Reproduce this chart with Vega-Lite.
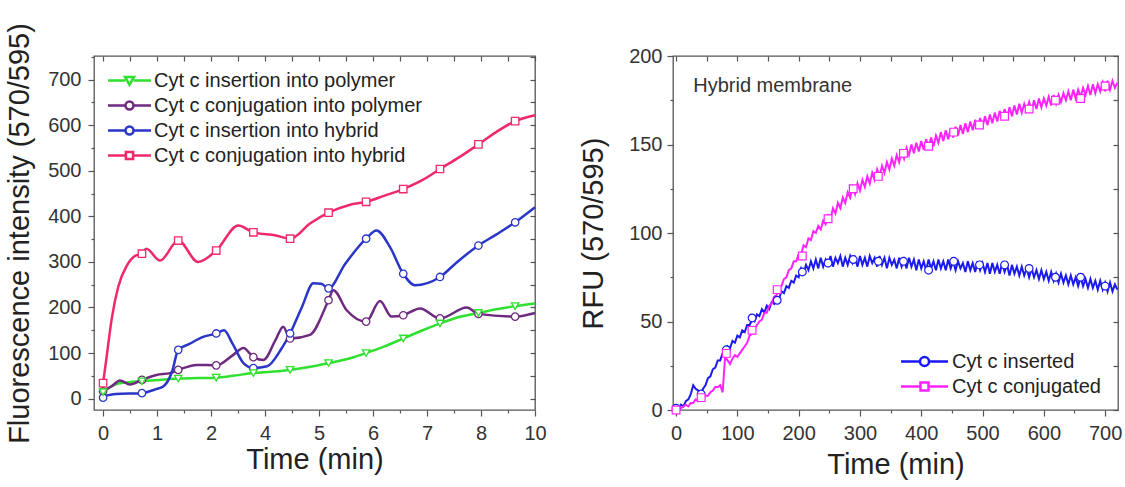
{
  "$schema": "https://vega.github.io/schema/vega-lite/v6.json",
  "padding": {"left": 4, "top": 21, "right": 0, "bottom": 0},
  "background": "white",
  "config": {
    "font": "Liberation Sans",
    "view": {"stroke": "#555", "strokeWidth": 1.3},
    "axis": {"grid": false, "domain": false, "labelFont": "Liberation Sans", "labelFontSize": 20, "labelColor": "#333", "titleFont": "Liberation Sans", "titleFontSize": 29, "titleFontWeight": "normal", "titleColor": "#222", "tickColor": "#555", "tickSize": 6, "tickWidth": 1.2, "labelPadding": 7, "labelOverlap": false, "labelFlush": false},
    "legend": {"labelFont": "Liberation Sans"}
  },
  "resolve": {"scale": {"color": "independent", "shape": "independent"}},
  "spacing": 31,
  "datasets": {
    "leftLines": [
      {"series": "Cyt c insertion into polymer", "t": 0, "v": 14},
      {"series": "Cyt c insertion into polymer", "t": 0.15, "v": 25},
      {"series": "Cyt c insertion into polymer", "t": 0.35, "v": 33},
      {"series": "Cyt c insertion into polymer", "t": 0.6, "v": 36},
      {"series": "Cyt c insertion into polymer", "t": 0.9, "v": 38},
      {"series": "Cyt c insertion into polymer", "t": 1.3, "v": 41},
      {"series": "Cyt c insertion into polymer", "t": 1.74, "v": 44},
      {"series": "Cyt c insertion into polymer", "t": 2.2, "v": 45},
      {"series": "Cyt c insertion into polymer", "t": 2.62, "v": 46},
      {"series": "Cyt c insertion into polymer", "t": 3.0, "v": 50},
      {"series": "Cyt c insertion into polymer", "t": 3.48, "v": 56},
      {"series": "Cyt c insertion into polymer", "t": 3.9, "v": 59},
      {"series": "Cyt c insertion into polymer", "t": 4.33, "v": 63},
      {"series": "Cyt c insertion into polymer", "t": 4.8, "v": 70},
      {"series": "Cyt c insertion into polymer", "t": 5.22, "v": 78},
      {"series": "Cyt c insertion into polymer", "t": 5.7, "v": 88},
      {"series": "Cyt c insertion into polymer", "t": 6.09, "v": 100},
      {"series": "Cyt c insertion into polymer", "t": 6.5, "v": 114},
      {"series": "Cyt c insertion into polymer", "t": 6.95, "v": 132},
      {"series": "Cyt c insertion into polymer", "t": 7.4, "v": 150},
      {"series": "Cyt c insertion into polymer", "t": 7.8, "v": 165},
      {"series": "Cyt c insertion into polymer", "t": 8.2, "v": 178},
      {"series": "Cyt c insertion into polymer", "t": 8.69, "v": 188},
      {"series": "Cyt c insertion into polymer", "t": 9.1, "v": 196},
      {"series": "Cyt c insertion into polymer", "t": 9.54, "v": 203},
      {"series": "Cyt c insertion into polymer", "t": 10, "v": 209},
      {"series": "Cyt c conjugation into polymer", "t": 0, "v": 16},
      {"series": "Cyt c conjugation into polymer", "t": 0.2, "v": 27},
      {"series": "Cyt c conjugation into polymer", "t": 0.39, "v": 40},
      {"series": "Cyt c conjugation into polymer", "t": 0.62, "v": 31},
      {"series": "Cyt c conjugation into polymer", "t": 0.9, "v": 41},
      {"series": "Cyt c conjugation into polymer", "t": 1.24, "v": 52},
      {"series": "Cyt c conjugation into polymer", "t": 1.55, "v": 56},
      {"series": "Cyt c conjugation into polymer", "t": 1.74, "v": 63},
      {"series": "Cyt c conjugation into polymer", "t": 2.17, "v": 74},
      {"series": "Cyt c conjugation into polymer", "t": 2.62, "v": 73},
      {"series": "Cyt c conjugation into polymer", "t": 3.0, "v": 95},
      {"series": "Cyt c conjugation into polymer", "t": 3.25, "v": 111},
      {"series": "Cyt c conjugation into polymer", "t": 3.48, "v": 91},
      {"series": "Cyt c conjugation into polymer", "t": 3.71, "v": 85},
      {"series": "Cyt c conjugation into polymer", "t": 4.0, "v": 130},
      {"series": "Cyt c conjugation into polymer", "t": 4.17, "v": 158},
      {"series": "Cyt c conjugation into polymer", "t": 4.33, "v": 132},
      {"series": "Cyt c conjugation into polymer", "t": 4.79, "v": 140},
      {"series": "Cyt c conjugation into polymer", "t": 5.22, "v": 216},
      {"series": "Cyt c conjugation into polymer", "t": 5.33, "v": 238},
      {"series": "Cyt c conjugation into polymer", "t": 5.64, "v": 194},
      {"series": "Cyt c conjugation into polymer", "t": 6.09, "v": 169},
      {"series": "Cyt c conjugation into polymer", "t": 6.41, "v": 214},
      {"series": "Cyt c conjugation into polymer", "t": 6.68, "v": 180},
      {"series": "Cyt c conjugation into polymer", "t": 6.95, "v": 183},
      {"series": "Cyt c conjugation into polymer", "t": 7.34, "v": 198},
      {"series": "Cyt c conjugation into polymer", "t": 7.8, "v": 176},
      {"series": "Cyt c conjugation into polymer", "t": 8.42, "v": 200},
      {"series": "Cyt c conjugation into polymer", "t": 8.69, "v": 186},
      {"series": "Cyt c conjugation into polymer", "t": 9.54, "v": 180},
      {"series": "Cyt c conjugation into polymer", "t": 10, "v": 188},
      {"series": "Cyt c insertion into hybrid", "t": 0, "v": 5},
      {"series": "Cyt c insertion into hybrid", "t": 0.3, "v": 10},
      {"series": "Cyt c insertion into hybrid", "t": 0.9, "v": 12},
      {"series": "Cyt c insertion into hybrid", "t": 1.2, "v": 20},
      {"series": "Cyt c insertion into hybrid", "t": 1.4, "v": 27},
      {"series": "Cyt c insertion into hybrid", "t": 1.6, "v": 60},
      {"series": "Cyt c insertion into hybrid", "t": 1.74, "v": 107},
      {"series": "Cyt c insertion into hybrid", "t": 2.0, "v": 120},
      {"series": "Cyt c insertion into hybrid", "t": 2.3, "v": 135},
      {"series": "Cyt c insertion into hybrid", "t": 2.62, "v": 143},
      {"series": "Cyt c insertion into hybrid", "t": 2.8, "v": 150},
      {"series": "Cyt c insertion into hybrid", "t": 3.0, "v": 120},
      {"series": "Cyt c insertion into hybrid", "t": 3.25, "v": 78},
      {"series": "Cyt c insertion into hybrid", "t": 3.48, "v": 67},
      {"series": "Cyt c insertion into hybrid", "t": 3.8, "v": 71},
      {"series": "Cyt c insertion into hybrid", "t": 4.1, "v": 105},
      {"series": "Cyt c insertion into hybrid", "t": 4.33, "v": 143},
      {"series": "Cyt c insertion into hybrid", "t": 4.6, "v": 200},
      {"series": "Cyt c insertion into hybrid", "t": 4.87, "v": 253},
      {"series": "Cyt c insertion into hybrid", "t": 5.05, "v": 252},
      {"series": "Cyt c insertion into hybrid", "t": 5.22, "v": 242},
      {"series": "Cyt c insertion into hybrid", "t": 5.6, "v": 295},
      {"series": "Cyt c insertion into hybrid", "t": 6.09, "v": 351},
      {"series": "Cyt c insertion into hybrid", "t": 6.33, "v": 369},
      {"series": "Cyt c insertion into hybrid", "t": 6.64, "v": 333},
      {"series": "Cyt c insertion into hybrid", "t": 6.95, "v": 274},
      {"series": "Cyt c insertion into hybrid", "t": 7.22, "v": 249},
      {"series": "Cyt c insertion into hybrid", "t": 7.8, "v": 267},
      {"series": "Cyt c insertion into hybrid", "t": 8.2, "v": 300},
      {"series": "Cyt c insertion into hybrid", "t": 8.69, "v": 336},
      {"series": "Cyt c insertion into hybrid", "t": 9.1, "v": 360},
      {"series": "Cyt c insertion into hybrid", "t": 9.54, "v": 387},
      {"series": "Cyt c insertion into hybrid", "t": 10, "v": 420},
      {"series": "Cyt c conjugation into hybrid", "t": 0, "v": 34},
      {"series": "Cyt c conjugation into hybrid", "t": 0.08, "v": 90},
      {"series": "Cyt c conjugation into hybrid", "t": 0.2, "v": 175},
      {"series": "Cyt c conjugation into hybrid", "t": 0.35, "v": 245},
      {"series": "Cyt c conjugation into hybrid", "t": 0.55, "v": 292},
      {"series": "Cyt c conjugation into hybrid", "t": 0.75, "v": 314},
      {"series": "Cyt c conjugation into hybrid", "t": 0.9, "v": 318},
      {"series": "Cyt c conjugation into hybrid", "t": 1.0, "v": 329},
      {"series": "Cyt c conjugation into hybrid", "t": 1.32, "v": 303},
      {"series": "Cyt c conjugation into hybrid", "t": 1.74, "v": 347},
      {"series": "Cyt c conjugation into hybrid", "t": 2.2, "v": 300},
      {"series": "Cyt c conjugation into hybrid", "t": 2.62, "v": 325},
      {"series": "Cyt c conjugation into hybrid", "t": 3.13, "v": 380},
      {"series": "Cyt c conjugation into hybrid", "t": 3.48, "v": 365},
      {"series": "Cyt c conjugation into hybrid", "t": 4.0, "v": 358},
      {"series": "Cyt c conjugation into hybrid", "t": 4.33, "v": 351},
      {"series": "Cyt c conjugation into hybrid", "t": 4.8, "v": 385},
      {"series": "Cyt c conjugation into hybrid", "t": 5.22, "v": 408},
      {"series": "Cyt c conjugation into hybrid", "t": 5.7, "v": 425},
      {"series": "Cyt c conjugation into hybrid", "t": 6.09, "v": 432},
      {"series": "Cyt c conjugation into hybrid", "t": 6.5, "v": 445},
      {"series": "Cyt c conjugation into hybrid", "t": 6.95, "v": 460},
      {"series": "Cyt c conjugation into hybrid", "t": 7.4, "v": 480},
      {"series": "Cyt c conjugation into hybrid", "t": 7.8, "v": 504},
      {"series": "Cyt c conjugation into hybrid", "t": 8.25, "v": 530},
      {"series": "Cyt c conjugation into hybrid", "t": 8.69, "v": 558},
      {"series": "Cyt c conjugation into hybrid", "t": 9.1, "v": 585},
      {"series": "Cyt c conjugation into hybrid", "t": 9.54, "v": 609},
      {"series": "Cyt c conjugation into hybrid", "t": 10, "v": 622}
    ],
    "leftMarkers": [
      {"series": "Cyt c insertion into polymer", "t": 0, "v": 14},
      {"series": "Cyt c insertion into polymer", "t": 0.9, "v": 38},
      {"series": "Cyt c insertion into polymer", "t": 1.74, "v": 44},
      {"series": "Cyt c insertion into polymer", "t": 2.62, "v": 46},
      {"series": "Cyt c insertion into polymer", "t": 3.48, "v": 56},
      {"series": "Cyt c insertion into polymer", "t": 4.33, "v": 63},
      {"series": "Cyt c insertion into polymer", "t": 5.22, "v": 78},
      {"series": "Cyt c insertion into polymer", "t": 6.09, "v": 100},
      {"series": "Cyt c insertion into polymer", "t": 6.95, "v": 132},
      {"series": "Cyt c insertion into polymer", "t": 7.8, "v": 165},
      {"series": "Cyt c insertion into polymer", "t": 8.69, "v": 188},
      {"series": "Cyt c insertion into polymer", "t": 9.54, "v": 203},
      {"series": "Cyt c conjugation into polymer", "t": 0, "v": 16},
      {"series": "Cyt c conjugation into polymer", "t": 0.9, "v": 41},
      {"series": "Cyt c conjugation into polymer", "t": 1.74, "v": 63},
      {"series": "Cyt c conjugation into polymer", "t": 2.62, "v": 73},
      {"series": "Cyt c conjugation into polymer", "t": 3.48, "v": 91},
      {"series": "Cyt c conjugation into polymer", "t": 4.33, "v": 132},
      {"series": "Cyt c conjugation into polymer", "t": 5.22, "v": 216},
      {"series": "Cyt c conjugation into polymer", "t": 6.09, "v": 169},
      {"series": "Cyt c conjugation into polymer", "t": 6.95, "v": 183},
      {"series": "Cyt c conjugation into polymer", "t": 7.8, "v": 176},
      {"series": "Cyt c conjugation into polymer", "t": 8.69, "v": 186},
      {"series": "Cyt c conjugation into polymer", "t": 9.54, "v": 180},
      {"series": "Cyt c insertion into hybrid", "t": 0, "v": 2},
      {"series": "Cyt c insertion into hybrid", "t": 0.9, "v": 12},
      {"series": "Cyt c insertion into hybrid", "t": 1.74, "v": 107},
      {"series": "Cyt c insertion into hybrid", "t": 2.62, "v": 143},
      {"series": "Cyt c insertion into hybrid", "t": 3.48, "v": 67},
      {"series": "Cyt c insertion into hybrid", "t": 4.33, "v": 143},
      {"series": "Cyt c insertion into hybrid", "t": 5.22, "v": 242},
      {"series": "Cyt c insertion into hybrid", "t": 6.09, "v": 351},
      {"series": "Cyt c insertion into hybrid", "t": 6.95, "v": 274},
      {"series": "Cyt c insertion into hybrid", "t": 7.8, "v": 267},
      {"series": "Cyt c insertion into hybrid", "t": 8.69, "v": 336},
      {"series": "Cyt c insertion into hybrid", "t": 9.54, "v": 387},
      {"series": "Cyt c conjugation into hybrid", "t": 0, "v": 34},
      {"series": "Cyt c conjugation into hybrid", "t": 0.9, "v": 318},
      {"series": "Cyt c conjugation into hybrid", "t": 1.74, "v": 347},
      {"series": "Cyt c conjugation into hybrid", "t": 2.62, "v": 325},
      {"series": "Cyt c conjugation into hybrid", "t": 3.48, "v": 365},
      {"series": "Cyt c conjugation into hybrid", "t": 4.33, "v": 351},
      {"series": "Cyt c conjugation into hybrid", "t": 5.22, "v": 408},
      {"series": "Cyt c conjugation into hybrid", "t": 6.09, "v": 432},
      {"series": "Cyt c conjugation into hybrid", "t": 6.95, "v": 460},
      {"series": "Cyt c conjugation into hybrid", "t": 7.8, "v": 504},
      {"series": "Cyt c conjugation into hybrid", "t": 8.69, "v": 558},
      {"series": "Cyt c conjugation into hybrid", "t": 9.54, "v": 609}
    ],
    "rightLines": [
      {"series": "Cyt c inserted", "t": 0, "v": 0}, {"series": "Cyt c inserted", "t": 4, "v": 1}, {"series": "Cyt c inserted", "t": 8, "v": 3}, {"series": "Cyt c inserted", "t": 12, "v": 2},
      {"series": "Cyt c inserted", "t": 16, "v": 5}, {"series": "Cyt c inserted", "t": 20, "v": 6}, {"series": "Cyt c inserted", "t": 24, "v": 9}, {"series": "Cyt c inserted", "t": 28, "v": 14},
      {"series": "Cyt c inserted", "t": 32, "v": 12}, {"series": "Cyt c inserted", "t": 36, "v": 11}, {"series": "Cyt c inserted", "t": 40, "v": 8}, {"series": "Cyt c inserted", "t": 44, "v": 12},
      {"series": "Cyt c inserted", "t": 48, "v": 14}, {"series": "Cyt c inserted", "t": 52, "v": 18}, {"series": "Cyt c inserted", "t": 56, "v": 19}, {"series": "Cyt c inserted", "t": 60, "v": 23},
      {"series": "Cyt c inserted", "t": 64, "v": 24}, {"series": "Cyt c inserted", "t": 68, "v": 28}, {"series": "Cyt c inserted", "t": 72, "v": 28}, {"series": "Cyt c inserted", "t": 76, "v": 32},
      {"series": "Cyt c inserted", "t": 80, "v": 32}, {"series": "Cyt c inserted", "t": 84, "v": 36}, {"series": "Cyt c inserted", "t": 88, "v": 35}, {"series": "Cyt c inserted", "t": 92, "v": 39},
      {"series": "Cyt c inserted", "t": 96, "v": 38}, {"series": "Cyt c inserted", "t": 100, "v": 42}, {"series": "Cyt c inserted", "t": 104, "v": 41}, {"series": "Cyt c inserted", "t": 108, "v": 45},
      {"series": "Cyt c inserted", "t": 112, "v": 44}, {"series": "Cyt c inserted", "t": 116, "v": 48}, {"series": "Cyt c inserted", "t": 120, "v": 48}, {"series": "Cyt c inserted", "t": 124, "v": 51},
      {"series": "Cyt c inserted", "t": 128, "v": 50}, {"series": "Cyt c inserted", "t": 132, "v": 54}, {"series": "Cyt c inserted", "t": 136, "v": 53}, {"series": "Cyt c inserted", "t": 140, "v": 57},
      {"series": "Cyt c inserted", "t": 144, "v": 55}, {"series": "Cyt c inserted", "t": 148, "v": 59}, {"series": "Cyt c inserted", "t": 152, "v": 57}, {"series": "Cyt c inserted", "t": 156, "v": 61},
      {"series": "Cyt c inserted", "t": 160, "v": 60}, {"series": "Cyt c inserted", "t": 164, "v": 64}, {"series": "Cyt c inserted", "t": 168, "v": 63}, {"series": "Cyt c inserted", "t": 172, "v": 67},
      {"series": "Cyt c inserted", "t": 176, "v": 66}, {"series": "Cyt c inserted", "t": 180, "v": 70}, {"series": "Cyt c inserted", "t": 184, "v": 69}, {"series": "Cyt c inserted", "t": 188, "v": 73},
      {"series": "Cyt c inserted", "t": 192, "v": 72}, {"series": "Cyt c inserted", "t": 196, "v": 76}, {"series": "Cyt c inserted", "t": 200, "v": 75}, {"series": "Cyt c inserted", "t": 204, "v": 80},
      {"series": "Cyt c inserted", "t": 208, "v": 77}, {"series": "Cyt c inserted", "t": 212, "v": 82}, {"series": "Cyt c inserted", "t": 216, "v": 79}, {"series": "Cyt c inserted", "t": 220, "v": 84},
      {"series": "Cyt c inserted", "t": 224, "v": 80}, {"series": "Cyt c inserted", "t": 228, "v": 85}, {"series": "Cyt c inserted", "t": 232, "v": 80}, {"series": "Cyt c inserted", "t": 236, "v": 86},
      {"series": "Cyt c inserted", "t": 240, "v": 81}, {"series": "Cyt c inserted", "t": 244, "v": 85}, {"series": "Cyt c inserted", "t": 248, "v": 82}, {"series": "Cyt c inserted", "t": 252, "v": 87},
      {"series": "Cyt c inserted", "t": 256, "v": 81}, {"series": "Cyt c inserted", "t": 260, "v": 86}, {"series": "Cyt c inserted", "t": 264, "v": 83}, {"series": "Cyt c inserted", "t": 268, "v": 87},
      {"series": "Cyt c inserted", "t": 272, "v": 81}, {"series": "Cyt c inserted", "t": 276, "v": 86}, {"series": "Cyt c inserted", "t": 280, "v": 82}, {"series": "Cyt c inserted", "t": 284, "v": 87},
      {"series": "Cyt c inserted", "t": 288, "v": 83}, {"series": "Cyt c inserted", "t": 292, "v": 86}, {"series": "Cyt c inserted", "t": 296, "v": 81}, {"series": "Cyt c inserted", "t": 300, "v": 87},
      {"series": "Cyt c inserted", "t": 304, "v": 82}, {"series": "Cyt c inserted", "t": 308, "v": 86}, {"series": "Cyt c inserted", "t": 312, "v": 81}, {"series": "Cyt c inserted", "t": 316, "v": 87},
      {"series": "Cyt c inserted", "t": 320, "v": 83}, {"series": "Cyt c inserted", "t": 324, "v": 86}, {"series": "Cyt c inserted", "t": 328, "v": 81}, {"series": "Cyt c inserted", "t": 332, "v": 87},
      {"series": "Cyt c inserted", "t": 336, "v": 82}, {"series": "Cyt c inserted", "t": 340, "v": 86}, {"series": "Cyt c inserted", "t": 344, "v": 80}, {"series": "Cyt c inserted", "t": 348, "v": 86},
      {"series": "Cyt c inserted", "t": 352, "v": 82}, {"series": "Cyt c inserted", "t": 356, "v": 85}, {"series": "Cyt c inserted", "t": 360, "v": 80}, {"series": "Cyt c inserted", "t": 364, "v": 86},
      {"series": "Cyt c inserted", "t": 368, "v": 81}, {"series": "Cyt c inserted", "t": 372, "v": 85}, {"series": "Cyt c inserted", "t": 376, "v": 80}, {"series": "Cyt c inserted", "t": 380, "v": 86},
      {"series": "Cyt c inserted", "t": 384, "v": 81}, {"series": "Cyt c inserted", "t": 388, "v": 85}, {"series": "Cyt c inserted", "t": 392, "v": 79}, {"series": "Cyt c inserted", "t": 396, "v": 85},
      {"series": "Cyt c inserted", "t": 400, "v": 80}, {"series": "Cyt c inserted", "t": 404, "v": 84}, {"series": "Cyt c inserted", "t": 408, "v": 79}, {"series": "Cyt c inserted", "t": 412, "v": 85},
      {"series": "Cyt c inserted", "t": 416, "v": 80}, {"series": "Cyt c inserted", "t": 420, "v": 84}, {"series": "Cyt c inserted", "t": 424, "v": 79}, {"series": "Cyt c inserted", "t": 428, "v": 85},
      {"series": "Cyt c inserted", "t": 432, "v": 80}, {"series": "Cyt c inserted", "t": 436, "v": 84}, {"series": "Cyt c inserted", "t": 440, "v": 79}, {"series": "Cyt c inserted", "t": 444, "v": 85},
      {"series": "Cyt c inserted", "t": 448, "v": 80}, {"series": "Cyt c inserted", "t": 452, "v": 84}, {"series": "Cyt c inserted", "t": 456, "v": 79}, {"series": "Cyt c inserted", "t": 460, "v": 84},
      {"series": "Cyt c inserted", "t": 464, "v": 80}, {"series": "Cyt c inserted", "t": 468, "v": 83}, {"series": "Cyt c inserted", "t": 472, "v": 78}, {"series": "Cyt c inserted", "t": 476, "v": 84},
      {"series": "Cyt c inserted", "t": 480, "v": 79}, {"series": "Cyt c inserted", "t": 484, "v": 83}, {"series": "Cyt c inserted", "t": 488, "v": 78}, {"series": "Cyt c inserted", "t": 492, "v": 84},
      {"series": "Cyt c inserted", "t": 496, "v": 79}, {"series": "Cyt c inserted", "t": 500, "v": 83}, {"series": "Cyt c inserted", "t": 504, "v": 78}, {"series": "Cyt c inserted", "t": 508, "v": 83},
      {"series": "Cyt c inserted", "t": 512, "v": 77}, {"series": "Cyt c inserted", "t": 516, "v": 83}, {"series": "Cyt c inserted", "t": 520, "v": 78}, {"series": "Cyt c inserted", "t": 524, "v": 82},
      {"series": "Cyt c inserted", "t": 528, "v": 77}, {"series": "Cyt c inserted", "t": 532, "v": 83}, {"series": "Cyt c inserted", "t": 536, "v": 78}, {"series": "Cyt c inserted", "t": 540, "v": 82},
      {"series": "Cyt c inserted", "t": 544, "v": 76}, {"series": "Cyt c inserted", "t": 548, "v": 82}, {"series": "Cyt c inserted", "t": 552, "v": 77}, {"series": "Cyt c inserted", "t": 556, "v": 81},
      {"series": "Cyt c inserted", "t": 560, "v": 76}, {"series": "Cyt c inserted", "t": 564, "v": 81}, {"series": "Cyt c inserted", "t": 568, "v": 76}, {"series": "Cyt c inserted", "t": 572, "v": 80},
      {"series": "Cyt c inserted", "t": 576, "v": 75}, {"series": "Cyt c inserted", "t": 580, "v": 80}, {"series": "Cyt c inserted", "t": 584, "v": 75}, {"series": "Cyt c inserted", "t": 588, "v": 79},
      {"series": "Cyt c inserted", "t": 592, "v": 74}, {"series": "Cyt c inserted", "t": 596, "v": 79}, {"series": "Cyt c inserted", "t": 600, "v": 74}, {"series": "Cyt c inserted", "t": 604, "v": 78},
      {"series": "Cyt c inserted", "t": 608, "v": 73}, {"series": "Cyt c inserted", "t": 612, "v": 78}, {"series": "Cyt c inserted", "t": 616, "v": 73}, {"series": "Cyt c inserted", "t": 620, "v": 77},
      {"series": "Cyt c inserted", "t": 624, "v": 72}, {"series": "Cyt c inserted", "t": 628, "v": 77}, {"series": "Cyt c inserted", "t": 632, "v": 72}, {"series": "Cyt c inserted", "t": 636, "v": 76},
      {"series": "Cyt c inserted", "t": 640, "v": 71}, {"series": "Cyt c inserted", "t": 644, "v": 76}, {"series": "Cyt c inserted", "t": 648, "v": 71}, {"series": "Cyt c inserted", "t": 652, "v": 75},
      {"series": "Cyt c inserted", "t": 656, "v": 70}, {"series": "Cyt c inserted", "t": 660, "v": 75}, {"series": "Cyt c inserted", "t": 664, "v": 70}, {"series": "Cyt c inserted", "t": 668, "v": 74},
      {"series": "Cyt c inserted", "t": 672, "v": 69}, {"series": "Cyt c inserted", "t": 676, "v": 74}, {"series": "Cyt c inserted", "t": 680, "v": 69}, {"series": "Cyt c inserted", "t": 684, "v": 73},
      {"series": "Cyt c inserted", "t": 688, "v": 68}, {"series": "Cyt c inserted", "t": 692, "v": 73}, {"series": "Cyt c inserted", "t": 696, "v": 68}, {"series": "Cyt c inserted", "t": 700, "v": 72},
      {"series": "Cyt c inserted", "t": 704, "v": 67}, {"series": "Cyt c inserted", "t": 708, "v": 72}, {"series": "Cyt c inserted", "t": 712, "v": 67}, {"series": "Cyt c inserted", "t": 716, "v": 71},
      {"series": "Cyt c inserted", "t": 720, "v": 68},
      {"series": "Cyt c conjugated", "t": 0, "v": 0}, {"series": "Cyt c conjugated", "t": 4, "v": 0}, {"series": "Cyt c conjugated", "t": 8, "v": 1}, {"series": "Cyt c conjugated", "t": 12, "v": 2},
      {"series": "Cyt c conjugated", "t": 16, "v": 3}, {"series": "Cyt c conjugated", "t": 20, "v": 2}, {"series": "Cyt c conjugated", "t": 24, "v": 4}, {"series": "Cyt c conjugated", "t": 28, "v": 4},
      {"series": "Cyt c conjugated", "t": 32, "v": 6}, {"series": "Cyt c conjugated", "t": 36, "v": 5}, {"series": "Cyt c conjugated", "t": 40, "v": 6}, {"series": "Cyt c conjugated", "t": 44, "v": 7},
      {"series": "Cyt c conjugated", "t": 48, "v": 8}, {"series": "Cyt c conjugated", "t": 52, "v": 8}, {"series": "Cyt c conjugated", "t": 56, "v": 10}, {"series": "Cyt c conjugated", "t": 60, "v": 11},
      {"series": "Cyt c conjugated", "t": 64, "v": 13}, {"series": "Cyt c conjugated", "t": 68, "v": 13}, {"series": "Cyt c conjugated", "t": 72, "v": 14}, {"series": "Cyt c conjugated", "t": 76, "v": 10},
      {"series": "Cyt c conjugated", "t": 80, "v": 30}, {"series": "Cyt c conjugated", "t": 84, "v": 28}, {"series": "Cyt c conjugated", "t": 88, "v": 26}, {"series": "Cyt c conjugated", "t": 92, "v": 29},
      {"series": "Cyt c conjugated", "t": 96, "v": 31}, {"series": "Cyt c conjugated", "t": 100, "v": 30}, {"series": "Cyt c conjugated", "t": 104, "v": 32}, {"series": "Cyt c conjugated", "t": 108, "v": 34},
      {"series": "Cyt c conjugated", "t": 112, "v": 36}, {"series": "Cyt c conjugated", "t": 116, "v": 38}, {"series": "Cyt c conjugated", "t": 120, "v": 42}, {"series": "Cyt c conjugated", "t": 124, "v": 43},
      {"series": "Cyt c conjugated", "t": 128, "v": 46}, {"series": "Cyt c conjugated", "t": 132, "v": 48}, {"series": "Cyt c conjugated", "t": 136, "v": 50}, {"series": "Cyt c conjugated", "t": 140, "v": 51},
      {"series": "Cyt c conjugated", "t": 144, "v": 55}, {"series": "Cyt c conjugated", "t": 148, "v": 55}, {"series": "Cyt c conjugated", "t": 152, "v": 59}, {"series": "Cyt c conjugated", "t": 156, "v": 60},
      {"series": "Cyt c conjugated", "t": 160, "v": 64}, {"series": "Cyt c conjugated", "t": 164, "v": 65}, {"series": "Cyt c conjugated", "t": 168, "v": 69}, {"series": "Cyt c conjugated", "t": 172, "v": 70},
      {"series": "Cyt c conjugated", "t": 176, "v": 74}, {"series": "Cyt c conjugated", "t": 180, "v": 75}, {"series": "Cyt c conjugated", "t": 184, "v": 79}, {"series": "Cyt c conjugated", "t": 188, "v": 80},
      {"series": "Cyt c conjugated", "t": 192, "v": 84}, {"series": "Cyt c conjugated", "t": 196, "v": 84}, {"series": "Cyt c conjugated", "t": 200, "v": 88}, {"series": "Cyt c conjugated", "t": 204, "v": 88},
      {"series": "Cyt c conjugated", "t": 208, "v": 93}, {"series": "Cyt c conjugated", "t": 212, "v": 92}, {"series": "Cyt c conjugated", "t": 216, "v": 97}, {"series": "Cyt c conjugated", "t": 220, "v": 96},
      {"series": "Cyt c conjugated", "t": 224, "v": 101}, {"series": "Cyt c conjugated", "t": 228, "v": 100}, {"series": "Cyt c conjugated", "t": 232, "v": 104}, {"series": "Cyt c conjugated", "t": 236, "v": 102},
      {"series": "Cyt c conjugated", "t": 240, "v": 107}, {"series": "Cyt c conjugated", "t": 244, "v": 105}, {"series": "Cyt c conjugated", "t": 248, "v": 110}, {"series": "Cyt c conjugated", "t": 252, "v": 108},
      {"series": "Cyt c conjugated", "t": 256, "v": 114}, {"series": "Cyt c conjugated", "t": 260, "v": 111}, {"series": "Cyt c conjugated", "t": 264, "v": 117}, {"series": "Cyt c conjugated", "t": 268, "v": 114},
      {"series": "Cyt c conjugated", "t": 272, "v": 120}, {"series": "Cyt c conjugated", "t": 276, "v": 117}, {"series": "Cyt c conjugated", "t": 280, "v": 123}, {"series": "Cyt c conjugated", "t": 284, "v": 120},
      {"series": "Cyt c conjugated", "t": 288, "v": 126}, {"series": "Cyt c conjugated", "t": 292, "v": 122}, {"series": "Cyt c conjugated", "t": 296, "v": 128}, {"series": "Cyt c conjugated", "t": 300, "v": 124},
      {"series": "Cyt c conjugated", "t": 304, "v": 130}, {"series": "Cyt c conjugated", "t": 308, "v": 126}, {"series": "Cyt c conjugated", "t": 312, "v": 132}, {"series": "Cyt c conjugated", "t": 316, "v": 128},
      {"series": "Cyt c conjugated", "t": 320, "v": 134}, {"series": "Cyt c conjugated", "t": 324, "v": 130}, {"series": "Cyt c conjugated", "t": 328, "v": 136}, {"series": "Cyt c conjugated", "t": 332, "v": 132},
      {"series": "Cyt c conjugated", "t": 336, "v": 138}, {"series": "Cyt c conjugated", "t": 340, "v": 134}, {"series": "Cyt c conjugated", "t": 344, "v": 140}, {"series": "Cyt c conjugated", "t": 348, "v": 136},
      {"series": "Cyt c conjugated", "t": 352, "v": 142}, {"series": "Cyt c conjugated", "t": 356, "v": 138}, {"series": "Cyt c conjugated", "t": 360, "v": 144}, {"series": "Cyt c conjugated", "t": 364, "v": 140},
      {"series": "Cyt c conjugated", "t": 368, "v": 146}, {"series": "Cyt c conjugated", "t": 372, "v": 142}, {"series": "Cyt c conjugated", "t": 376, "v": 148}, {"series": "Cyt c conjugated", "t": 380, "v": 144},
      {"series": "Cyt c conjugated", "t": 384, "v": 150}, {"series": "Cyt c conjugated", "t": 388, "v": 145}, {"series": "Cyt c conjugated", "t": 392, "v": 151}, {"series": "Cyt c conjugated", "t": 396, "v": 146},
      {"series": "Cyt c conjugated", "t": 400, "v": 152}, {"series": "Cyt c conjugated", "t": 404, "v": 147}, {"series": "Cyt c conjugated", "t": 408, "v": 153}, {"series": "Cyt c conjugated", "t": 412, "v": 148},
      {"series": "Cyt c conjugated", "t": 416, "v": 154}, {"series": "Cyt c conjugated", "t": 420, "v": 149}, {"series": "Cyt c conjugated", "t": 424, "v": 155}, {"series": "Cyt c conjugated", "t": 428, "v": 151},
      {"series": "Cyt c conjugated", "t": 432, "v": 157}, {"series": "Cyt c conjugated", "t": 436, "v": 152}, {"series": "Cyt c conjugated", "t": 440, "v": 158}, {"series": "Cyt c conjugated", "t": 444, "v": 153},
      {"series": "Cyt c conjugated", "t": 448, "v": 159}, {"series": "Cyt c conjugated", "t": 452, "v": 154}, {"series": "Cyt c conjugated", "t": 456, "v": 160}, {"series": "Cyt c conjugated", "t": 460, "v": 155},
      {"series": "Cyt c conjugated", "t": 464, "v": 161}, {"series": "Cyt c conjugated", "t": 468, "v": 156}, {"series": "Cyt c conjugated", "t": 472, "v": 162}, {"series": "Cyt c conjugated", "t": 476, "v": 157},
      {"series": "Cyt c conjugated", "t": 480, "v": 163}, {"series": "Cyt c conjugated", "t": 484, "v": 158}, {"series": "Cyt c conjugated", "t": 488, "v": 164}, {"series": "Cyt c conjugated", "t": 492, "v": 159},
      {"series": "Cyt c conjugated", "t": 496, "v": 165}, {"series": "Cyt c conjugated", "t": 500, "v": 160}, {"series": "Cyt c conjugated", "t": 504, "v": 166}, {"series": "Cyt c conjugated", "t": 508, "v": 161},
      {"series": "Cyt c conjugated", "t": 512, "v": 167}, {"series": "Cyt c conjugated", "t": 516, "v": 162}, {"series": "Cyt c conjugated", "t": 520, "v": 168}, {"series": "Cyt c conjugated", "t": 524, "v": 163},
      {"series": "Cyt c conjugated", "t": 528, "v": 169}, {"series": "Cyt c conjugated", "t": 532, "v": 164}, {"series": "Cyt c conjugated", "t": 536, "v": 170}, {"series": "Cyt c conjugated", "t": 540, "v": 165},
      {"series": "Cyt c conjugated", "t": 544, "v": 171}, {"series": "Cyt c conjugated", "t": 548, "v": 166}, {"series": "Cyt c conjugated", "t": 552, "v": 172}, {"series": "Cyt c conjugated", "t": 556, "v": 167},
      {"series": "Cyt c conjugated", "t": 560, "v": 173}, {"series": "Cyt c conjugated", "t": 564, "v": 168}, {"series": "Cyt c conjugated", "t": 568, "v": 173}, {"series": "Cyt c conjugated", "t": 572, "v": 169},
      {"series": "Cyt c conjugated", "t": 576, "v": 174}, {"series": "Cyt c conjugated", "t": 580, "v": 169}, {"series": "Cyt c conjugated", "t": 584, "v": 175}, {"series": "Cyt c conjugated", "t": 588, "v": 170},
      {"series": "Cyt c conjugated", "t": 592, "v": 176}, {"series": "Cyt c conjugated", "t": 596, "v": 171}, {"series": "Cyt c conjugated", "t": 600, "v": 176}, {"series": "Cyt c conjugated", "t": 604, "v": 172},
      {"series": "Cyt c conjugated", "t": 608, "v": 177}, {"series": "Cyt c conjugated", "t": 612, "v": 172}, {"series": "Cyt c conjugated", "t": 616, "v": 178}, {"series": "Cyt c conjugated", "t": 620, "v": 173},
      {"series": "Cyt c conjugated", "t": 624, "v": 178}, {"series": "Cyt c conjugated", "t": 628, "v": 174}, {"series": "Cyt c conjugated", "t": 632, "v": 179}, {"series": "Cyt c conjugated", "t": 636, "v": 175},
      {"series": "Cyt c conjugated", "t": 640, "v": 180}, {"series": "Cyt c conjugated", "t": 644, "v": 175}, {"series": "Cyt c conjugated", "t": 648, "v": 181}, {"series": "Cyt c conjugated", "t": 652, "v": 176},
      {"series": "Cyt c conjugated", "t": 656, "v": 181}, {"series": "Cyt c conjugated", "t": 660, "v": 177}, {"series": "Cyt c conjugated", "t": 664, "v": 182}, {"series": "Cyt c conjugated", "t": 668, "v": 178},
      {"series": "Cyt c conjugated", "t": 672, "v": 183}, {"series": "Cyt c conjugated", "t": 676, "v": 178}, {"series": "Cyt c conjugated", "t": 680, "v": 184}, {"series": "Cyt c conjugated", "t": 684, "v": 179},
      {"series": "Cyt c conjugated", "t": 688, "v": 184}, {"series": "Cyt c conjugated", "t": 692, "v": 180}, {"series": "Cyt c conjugated", "t": 696, "v": 185}, {"series": "Cyt c conjugated", "t": 700, "v": 180},
      {"series": "Cyt c conjugated", "t": 704, "v": 186}, {"series": "Cyt c conjugated", "t": 708, "v": 181}, {"series": "Cyt c conjugated", "t": 712, "v": 186}, {"series": "Cyt c conjugated", "t": 716, "v": 182},
      {"series": "Cyt c conjugated", "t": 720, "v": 185}
    ],
    "rightMarkers": [
      {"series": "Cyt c inserted", "t": 0, "v": 1},
      {"series": "Cyt c inserted", "t": 41, "v": 9},
      {"series": "Cyt c inserted", "t": 82, "v": 34},
      {"series": "Cyt c inserted", "t": 124, "v": 52},
      {"series": "Cyt c inserted", "t": 165, "v": 62},
      {"series": "Cyt c inserted", "t": 206, "v": 78},
      {"series": "Cyt c inserted", "t": 248, "v": 83},
      {"series": "Cyt c inserted", "t": 289, "v": 85},
      {"series": "Cyt c inserted", "t": 330, "v": 84},
      {"series": "Cyt c inserted", "t": 371, "v": 84},
      {"series": "Cyt c inserted", "t": 412, "v": 79},
      {"series": "Cyt c inserted", "t": 453, "v": 84},
      {"series": "Cyt c inserted", "t": 495, "v": 82},
      {"series": "Cyt c inserted", "t": 536, "v": 82},
      {"series": "Cyt c inserted", "t": 576, "v": 80},
      {"series": "Cyt c inserted", "t": 619, "v": 75},
      {"series": "Cyt c inserted", "t": 660, "v": 75},
      {"series": "Cyt c inserted", "t": 700, "v": 70},
      {"series": "Cyt c conjugated", "t": 0, "v": 0},
      {"series": "Cyt c conjugated", "t": 41, "v": 7},
      {"series": "Cyt c conjugated", "t": 82, "v": 32},
      {"series": "Cyt c conjugated", "t": 124, "v": 45},
      {"series": "Cyt c conjugated", "t": 165, "v": 68},
      {"series": "Cyt c conjugated", "t": 206, "v": 87},
      {"series": "Cyt c conjugated", "t": 248, "v": 108},
      {"series": "Cyt c conjugated", "t": 289, "v": 125},
      {"series": "Cyt c conjugated", "t": 330, "v": 132},
      {"series": "Cyt c conjugated", "t": 371, "v": 145},
      {"series": "Cyt c conjugated", "t": 412, "v": 149},
      {"series": "Cyt c conjugated", "t": 453, "v": 157},
      {"series": "Cyt c conjugated", "t": 495, "v": 161},
      {"series": "Cyt c conjugated", "t": 536, "v": 166},
      {"series": "Cyt c conjugated", "t": 576, "v": 170},
      {"series": "Cyt c conjugated", "t": 619, "v": 175},
      {"series": "Cyt c conjugated", "t": 660, "v": 176},
      {"series": "Cyt c conjugated", "t": 700, "v": 183}
    ],
    "note": [{"t": 28, "v": 183, "label": "Hybrid membrane"}]
  },
  "hconcat": [
    {
      "width": 441,
      "height": 354,
      "resolve": {"axis": {"x": "independent", "y": "independent"}},
      "layer": [
        {
          "data": {"name": "leftLines"},
          "mark": {"type": "line", "interpolate": "monotone", "strokeWidth": 2.5},
          "encoding": {
            "x": {"field": "t", "type": "quantitative", "scale": {"domain": [-0.21, 10], "nice": false, "zero": false},
                  "axis": {"orient": "bottom", "values": [0, 1.25, 2.5, 3.75, 5, 6.25, 7.5, 8.75, 10], "labelExpr": "datum.value < 0.5 ? '0' : datum.value < 2 ? '1' : datum.value < 3 ? '2' : datum.value < 4 ? '4' : datum.value < 5.5 ? '5' : datum.value < 7 ? '6' : datum.value < 8 ? '7' : datum.value < 9 ? '8' : '10'", "title": "Time (min)", "titlePadding": 2}},
            "y": {"field": "v", "type": "quantitative", "scale": {"domain": [-25, 752], "nice": false, "zero": false},
                  "axis": {"orient": "left", "values": [0, 100, 200, 300, 400, 500, 600, 700], "title": "Fluorescence intensity (570/595)", "titlePadding": 13}},
            "color": {"field": "series", "type": "nominal", "scale": {"domain": ["Cyt c insertion into polymer", "Cyt c conjugation into polymer", "Cyt c insertion into hybrid", "Cyt c conjugation into hybrid"], "range": ["#2fe02f", "#6e2a7e", "#2a36c8", "#f0286c"]}}
          }
        },
        {
          "data": {"name": "leftMarkers"},
          "transform": [{"filter": "datum.series == 'Cyt c conjugation into polymer' || datum.series == 'Cyt c insertion into hybrid'"}],
          "mark": {"type": "point", "shape": "circle", "filled": false, "fill": "white", "size": 55, "strokeWidth": 1.3, "opacity": 1},
          "encoding": {
            "x": {"field": "t", "type": "quantitative", "axis": {"orient": "bottom", "values": [0.625, 1.875, 3.125, 4.375, 5.625, 6.875, 8.125, 9.375], "labels": false, "tickSize": 3, "title": null}},
            "y": {"field": "v", "type": "quantitative", "axis": {"orient": "left", "values": [50, 150, 250, 350, 450, 550, 650, 750], "labels": false, "tickSize": 3, "title": null}},
            "color": {"field": "series", "type": "nominal"}
          }
        },
        {
          "data": {"name": "leftMarkers"},
          "transform": [{"filter": "datum.series == 'Cyt c insertion into polymer'"}],
          "mark": {"type": "point", "shape": "triangle-down", "filled": false, "fill": "white", "size": 55, "strokeWidth": 1.3, "opacity": 1},
          "encoding": {
            "x": {"field": "t", "type": "quantitative", "axis": {"orient": "top", "values": [0, 0.625, 1.25, 1.875, 2.5, 3.125, 3.75, 4.375, 5, 5.625, 6.25, 6.875, 7.5, 8.125, 8.75, 9.375, 10], "labels": false, "tickSize": -5, "title": null}},
            "y": {"field": "v", "type": "quantitative", "axis": {"orient": "right", "values": [0, 50, 100, 150, 200, 250, 300, 350, 400, 450, 500, 550, 600, 650, 700, 750], "labels": false, "tickSize": -5, "title": null}},
            "color": {"field": "series", "type": "nominal"}
          }
        },
        {
          "data": {"name": "leftMarkers"},
          "transform": [{"filter": "datum.series == 'Cyt c conjugation into hybrid'"}],
          "mark": {"type": "point", "shape": "square", "filled": false, "fill": "white", "size": 55, "strokeWidth": 1.3, "opacity": 1},
          "encoding": {
            "x": {"field": "t", "type": "quantitative", "axis": null},
            "y": {"field": "v", "type": "quantitative", "axis": null},
            "color": {"field": "series", "type": "nominal"}
          }
        },
        {
          "data": {"name": "leftMarkers"},
          "mark": {"type": "point", "filled": false, "size": 0, "opacity": 1},
          "encoding": {
            "x": {"field": "t", "type": "quantitative", "axis": null},
            "y": {"field": "v", "type": "quantitative", "axis": null},
            "color": {"field": "series", "type": "nominal",
                      "legend": {"title": null, "orient": "none", "legendX": 24, "legendY": 13, "symbolSize": 400, "symbolStrokeWidth": 2.5, "labelFontSize": 20, "labelColor": "#222", "labelOffset": 13, "rowPadding": 3, "padding": 0, "labelLimit": 500}},
            "shape": {"field": "series", "type": "nominal",
                      "scale": {"domain": ["Cyt c insertion into polymer", "Cyt c conjugation into polymer", "Cyt c insertion into hybrid", "Cyt c conjugation into hybrid"],
                                "range": ["M-2.15,0H-0.42M0.42,0H2.15M-0.45,-0.35L0.45,-0.35L0,0.42Z",
                                          "M-2.15,0H-0.42M0.42,0H2.15M-0.4,0A0.4,0.4 0 1,0 0.4,0A0.4,0.4 0 1,0 -0.4,0Z",
                                          "M-2.15,0H-0.42M0.42,0H2.15M-0.4,0A0.4,0.4 0 1,0 0.4,0A0.4,0.4 0 1,0 -0.4,0Z",
                                          "M-2.15,0H-0.38M0.38,0H2.15M-0.36,-0.36H0.36V0.36H-0.36Z"]},
                      "legend": {"title": null, "orient": "none", "legendX": 24, "legendY": 13, "symbolSize": 400, "symbolStrokeWidth": 2.5, "labelFontSize": 20, "labelColor": "#222", "labelOffset": 13, "rowPadding": 3, "padding": 0, "labelLimit": 500}}
          }
        }
      ]
    },
    {
      "width": 445,
      "height": 354,
      "resolve": {"axis": {"x": "independent", "y": "independent"}},
      "layer": [
        {
          "data": {"name": "rightLines"},
          "mark": {"type": "line", "strokeWidth": 2},
          "encoding": {
            "x": {"field": "t", "type": "quantitative", "scale": {"domain": [-5, 721], "nice": false, "zero": false},
                  "axis": {"orient": "bottom", "values": [0, 100, 200, 300, 400, 500, 600, 700], "title": "Time (min)", "titlePadding": 7}},
            "y": {"field": "v", "type": "quantitative", "scale": {"domain": [0, 200], "nice": false, "zero": false},
                  "axis": {"orient": "left", "values": [0, 50, 100, 150, 200], "title": "RFU (570/595)", "titlePadding": 20, "labelPadding": 5}},
            "color": {"field": "series", "type": "nominal", "scale": {"domain": ["Cyt c inserted", "Cyt c conjugated"], "range": ["#1a1aee", "#ff22ff"]}}
          }
        },
        {
          "data": {"name": "rightMarkers"},
          "transform": [{"filter": "datum.series == 'Cyt c inserted'"}],
          "mark": {"type": "point", "shape": "circle", "filled": false, "fill": "white", "size": 60, "strokeWidth": 1.2, "opacity": 1},
          "encoding": {
            "x": {"field": "t", "type": "quantitative", "axis": {"orient": "bottom", "values": [50, 150, 250, 350, 450, 550, 650], "labels": false, "tickSize": 3, "title": null}},
            "y": {"field": "v", "type": "quantitative", "axis": {"orient": "left", "values": [25, 75, 125, 175], "labels": false, "tickSize": 3, "title": null}},
            "color": {"field": "series", "type": "nominal"}
          }
        },
        {
          "data": {"name": "rightMarkers"},
          "transform": [{"filter": "datum.series == 'Cyt c conjugated'"}],
          "mark": {"type": "point", "shape": "square", "filled": false, "fill": "white", "size": 60, "strokeWidth": 1.2, "opacity": 1},
          "encoding": {
            "x": {"field": "t", "type": "quantitative", "axis": {"orient": "top", "values": [0, 50, 100, 150, 200, 250, 300, 350, 400, 450, 500, 550, 600, 650, 700], "labels": false, "tickSize": -5, "title": null}},
            "y": {"field": "v", "type": "quantitative", "axis": {"orient": "right", "values": [0, 25, 50, 75, 100, 125, 150, 175, 200], "labels": false, "tickSize": -5, "title": null}},
            "color": {"field": "series", "type": "nominal"}
          }
        },
        {
          "data": {"name": "rightMarkers"},
          "mark": {"type": "point", "filled": false, "size": 0, "opacity": 1},
          "encoding": {
            "x": {"field": "t", "type": "quantitative", "axis": null},
            "y": {"field": "v", "type": "quantitative", "axis": null},
            "color": {"field": "series", "type": "nominal",
                      "legend": {"title": null, "orient": "none", "legendX": 240, "legendY": 294, "symbolSize": 400, "symbolStrokeWidth": 2.5, "labelFontSize": 20, "labelColor": "#222", "labelOffset": 16, "rowPadding": 3, "padding": 0, "labelLimit": 500}},
            "shape": {"field": "series", "type": "nominal",
                      "scale": {"domain": ["Cyt c inserted", "Cyt c conjugated"],
                                "range": ["M-2.35,0H-0.47M0.47,0H2.35M-0.45,0A0.45,0.45 0 1,0 0.45,0A0.45,0.45 0 1,0 -0.45,0Z",
                                          "M-2.35,0H-0.42M0.42,0H2.35M-0.4,-0.4H0.4V0.4H-0.4Z"]},
                      "legend": {"title": null, "orient": "none", "legendX": 240, "legendY": 294, "symbolSize": 400, "symbolStrokeWidth": 2.5, "labelFontSize": 20, "labelColor": "#222", "labelOffset": 16, "rowPadding": 3, "padding": 0, "labelLimit": 500}}
          }
        },
        {
          "data": {"name": "note"},
          "mark": {"type": "text", "align": "left", "baseline": "middle", "fontSize": 20, "font": "Liberation Sans", "color": "#333"},
          "encoding": {
            "x": {"field": "t", "type": "quantitative", "axis": null},
            "y": {"field": "v", "type": "quantitative", "axis": null},
            "text": {"field": "label"}
          }
        }
      ]
    }
  ]
}
